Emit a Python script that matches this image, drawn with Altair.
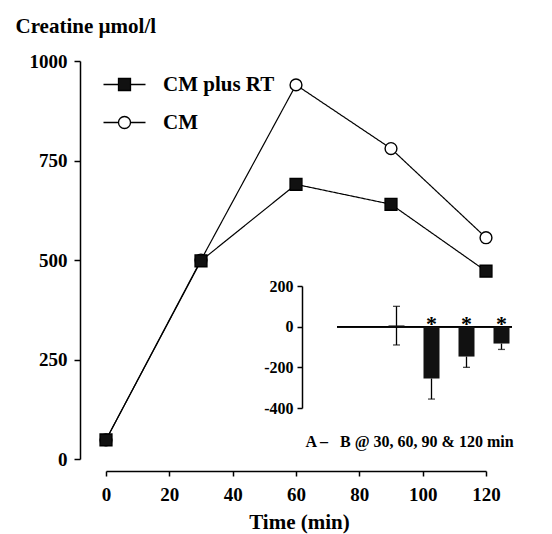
import altair as alt
import pandas as pd

# ---------------- data ----------------
times = [0, 30, 60, 90, 120]
series_order = ["CM plus RT", "CM"]
cm_plus_rt = [48, 498, 690, 640, 472]
cm = [48, 500, 940, 780, 556]

y_ticks = [0, 250, 500, 750, 1000]
x_ticks = [0, 20, 40, 60, 80, 100, 120]

# inset: difference A - B
inset_times = [30, 60, 90, 120]
inset_diff = [6, -255, -147, -83]
inset_err_low = [-90, -356, -200, -112]
inset_err_high = [100, None, None, None]
inset_sig = [False, True, True, True]
inset_ticks = [-400, -200, 0, 200]
inset_y_domain = [-400, 200]
inset_x_domain = [-21, 129]
inset_note = "A \u2013\u00a0\u00a0 B @ 30, 60, 90 & 120 min"

# ---------------- layout ----------------
FONT = "Liberation Serif"
W, H = 406, 410
PAD = {"left": 80, "top": 61, "right": 66, "bottom": 63}
MAIN_X_RANGE = [26, 406]
MAIN_Y_RANGE = [398, 0]
INSET_X_RANGE = [252, 437]
INSET_Y_RANGE = [347, 225]

main_df = pd.DataFrame({
    "time": times * 2,
    "value": cm + cm_plus_rt,
    "series": ["CM"] * len(times) + ["CM plus RT"] * len(times),
})
main_df["series_line"] = main_df["series"]

inset_df = pd.DataFrame({
    "pos": inset_times,
    "diff": inset_diff,
    "lo": inset_err_low,
    "hi": [h if h is not None else d for h, d in zip(inset_err_high, inset_diff)],
    "sig": inset_sig,
})
caps_df = pd.DataFrame({
    "pos": inset_times + [t for t, h in zip(inset_times, inset_err_high) if h is not None],
    "cap": inset_err_low + [h for h in inset_err_high if h is not None],
})

# ---------------- main chart ----------------
xs = alt.Scale(domain=[0, 120], range=MAIN_X_RANGE, nice=False)
ys = alt.Scale(domain=[0, 1000], range=MAIN_Y_RANGE, nice=False)

x_axis = alt.Axis(values=x_ticks, orient="bottom", tickSize=5, labelPadding=9,
                  labelFontSize=19, domainWidth=1.5, tickWidth=1.5, labelFlush=False,
                  format="d",
                  title="Time (min)", titleFontSize=21, titleY=57, titleX=219,
                  titleBaseline="alphabetic")
y_axis = alt.Axis(values=y_ticks, orient="left", tickSize=6, labelPadding=7,
                  labelFontSize=19, domainWidth=1.5, tickWidth=1.5, labelFlush=False,
                  format="d", labelAlign="right",
                  title="Creatine \u00b5mol/l", titleFontSize=21, titleAngle=0,
                  titleAlign="left", titleBaseline="alphabetic", titleX=-65, titleY=-29)

sq_path = "M-1,-1H1V1H-1Z"
circ_path = "M-1.1,0A1.1,1.1,0,1,0,1.1,0A1.1,1.1,0,1,0,-1.1,0Z"
line_path = "M-3.5,0H-1.05M1.05,0H3.5"

leg_common = dict(orient="none", legendX=34, legendY=13, title=None, padding=0,
                  labelFont=FONT, labelFontSize=21, labelFontWeight="bold",
                  labelLimit=0, labelOffset=28, symbolSize=144, rowPadding=16,
                  symbolStrokeColor="black", symbolStrokeWidth=1.3)

marker_legend = alt.Legend(
    labelColor="black", zindex=2,
    symbolType=alt.ExprRef(expr=f"datum.value === 'CM' ? '{circ_path}' : '{sq_path}'"),
    symbolFillColor=alt.ExprRef(expr="datum.value === 'CM' ? 'white' : '#111111'"),
    **leg_common,
)
line_legend = alt.Legend(symbolType=line_path, labelOpacity=0, zindex=1, **leg_common)

base = alt.Chart(main_df).encode(
    x=alt.X("time:Q", scale=xs, axis=x_axis),
    y=alt.Y("value:Q", scale=ys, axis=y_axis),
)
lines = base.mark_line(strokeWidth=1.2).encode(
    stroke=alt.Stroke("series:N", scale=alt.Scale(domain=series_order, range=["black", "black"]),
                      legend=marker_legend),
    strokeDash=alt.StrokeDash("series_line:N", sort=series_order,
                              scale=alt.Scale(range=[[1, 0], [1, 0]]),
                              legend=line_legend),
)
points = base.mark_point(size=140, stroke="black", strokeWidth=1.4, opacity=1).encode(
    shape=alt.Shape("series:N", scale=alt.Scale(domain=series_order, range=["square", "circle"]),
                    legend=None),
    fill=alt.Fill("series:N", scale=alt.Scale(domain=series_order, range=["#111111", "white"]),
                  legend=None),
)
main = alt.layer(lines, points)

# ---------------- inset ----------------
ixs = alt.Scale(domain=inset_x_domain, range=INSET_X_RANGE, nice=False, zero=False)
iys = alt.Scale(domain=inset_y_domain, range=INSET_Y_RANGE, nice=False)
ix_axis = alt.Axis(orient="bottom", domain=False, ticks=False, labels=False,
                   title=inset_note, titleFontSize=16, titleX=329, titleY=-30,
                   titleBaseline="middle", titleAlign="center")
iy_axis = alt.Axis(orient="left", offset=-222, values=inset_ticks, tickSize=5, labelPadding=4,
                   labelFontSize=16, domainWidth=1.5, tickWidth=1.5, title=None,
                   labelExpr="datum.value + ''")

ib = alt.Chart(inset_df)
zero_line = ib.mark_rule(color="black", strokeWidth=1.5).encode(
    x=alt.X(datum=inset_x_domain[0], scale=ixs, axis=ix_axis),
    x2=alt.X2(datum=inset_x_domain[1]),
    y=alt.Y(datum=0, scale=iys, axis=iy_axis),
)
bars = ib.mark_bar(size=16, color="#111111").encode(
    x=alt.X("pos:Q", scale=ixs, axis=ix_axis),
    y=alt.Y("diff:Q", scale=iys, axis=iy_axis),
    y2=alt.Y2(datum=0),
)
errs = ib.mark_rule(color="black", strokeWidth=1.3).encode(
    x=alt.X("pos:Q", scale=ixs, axis=ix_axis),
    y=alt.Y("lo:Q", scale=iys, axis=iy_axis),
    y2="hi:Q",
)
caps = alt.Chart(caps_df).mark_tick(orient="horizontal", size=7, thickness=1.3, color="black").encode(
    x=alt.X("pos:Q", scale=ixs, axis=ix_axis),
    y=alt.Y("cap:Q", scale=iys, axis=iy_axis),
)
stars = ib.transform_filter("datum.sig").mark_text(
    text="*", font=FONT, fontSize=22, fontWeight="bold", color="black",
    baseline="alphabetic", dy=4,
).encode(
    x=alt.X("pos:Q", scale=ixs, axis=ix_axis),
    y=alt.Y(datum=0, scale=iys, axis=iy_axis),
)
inset = alt.layer(zero_line, errs, bars, caps, stars)

chart = alt.layer(main, inset).resolve_scale(
    x="independent", y="independent"
).properties(
    width=W, height=H,
    autosize=alt.AutoSizeParams(type="none"),
    padding=PAD,
).configure_view(stroke=None).configure_axis(
    labelFont=FONT, titleFont=FONT, labelFontWeight="bold", titleFontWeight="bold",
    labelColor="black", titleColor="black", domainColor="black", tickColor="black",
    grid=False,
)

chart.save("out.html", embed_options={"renderer": "svg", "actions": False})
